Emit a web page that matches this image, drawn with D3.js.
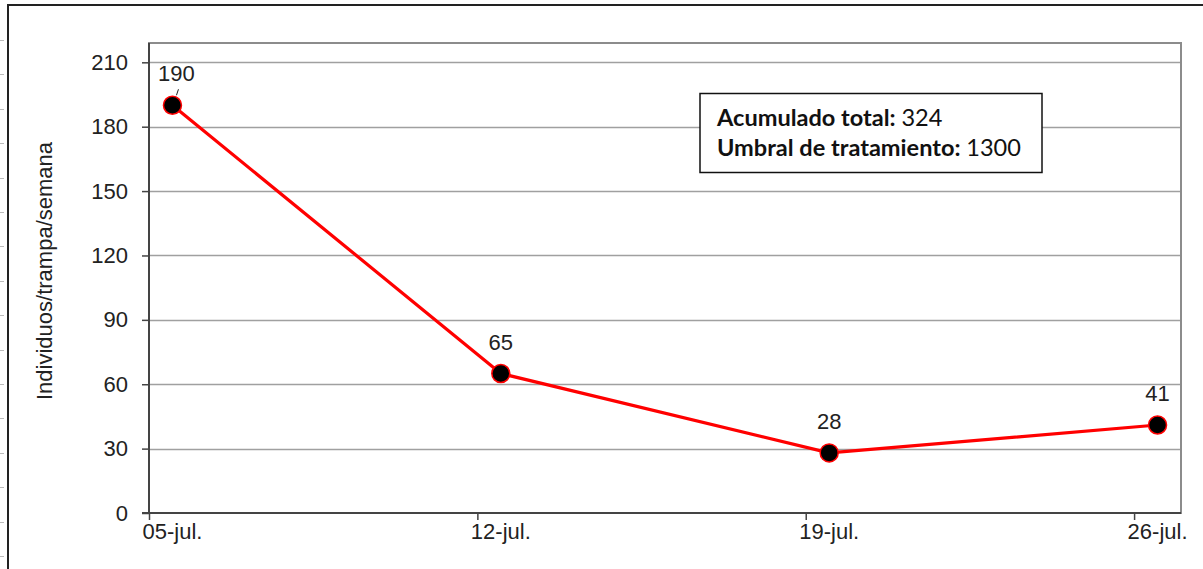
<!DOCTYPE html>
<html><head><meta charset="utf-8">
<script src="https://cdn.jsdelivr.net/npm/d3@7"></script>
<style>
html,body{margin:0;padding:0;background:#fff;}
svg{display:block;}
</style></head>
<body>
<svg id="chart" width="1203" height="569"></svg>
<script>
// ---- data ----
const dates = ["2021-07-05", "2021-07-12", "2021-07-19", "2021-07-26"];
const values = [190, 65, 28, 41];
const yTicks = [0, 30, 60, 90, 120, 150, 180, 210];
const monthAbbr = "jul.";
const yTitle = "Individuos/trampa/semana";
const boxLines = [
  {label: "Acumulado total:", value: "324"},
  {label: "Umbral de tratamiento:", value: "1300"}
];

const parse = d3.timeParse("%Y-%m-%d");
const data = dates.map((d, i) => ({date: parse(d), value: values[i]}));
const HALF = 12 * 3600 * 1000;

const svg = d3.select("#chart");
const W = 1203, H = 569;
const pLeft = 149, pRight = 1181, pTop = 43, pBottom = 513;
const FONT = "Liberation Sans, Arial, sans-serif";
const FS = 22;

// outer frame (spreadsheet-like)
svg.append("line").attr("x1", 8).attr("x2", W).attr("y1", 5).attr("y2", 5)
  .attr("stroke", "#222").attr("stroke-width", 2);
svg.append("line").attr("x1", 8).attr("x2", 8).attr("y1", 4).attr("y2", H)
  .attr("stroke", "#222").attr("stroke-width", 2);
for (let k = 0; k < 16; k++) {
  const yy = Math.round(40 + 34.4 * k) + 0.5;
  svg.append("line").attr("x1", 0).attr("x2", 4).attr("y1", yy).attr("y2", yy)
    .attr("stroke", "#bbb").attr("stroke-width", 1);
}

const x = d3.scaleTime()
  .domain([new Date(data[0].date.getTime() - HALF), new Date(data[data.length - 1].date.getTime() + HALF)])
  .range([pLeft, pRight]);
const y = d3.scaleLinear().domain([0, 219]).range([pBottom, pTop]);

// gridlines
svg.append("g").selectAll("line").data(yTicks.filter(t => t > 0)).join("line")
  .attr("x1", pLeft).attr("x2", pRight)
  .attr("y1", d => Math.round(y(d)) + 0.5).attr("y2", d => Math.round(y(d)) + 0.5)
  .attr("stroke", "#a0a0a0").attr("stroke-width", 1.5);

// plot border
svg.append("rect").attr("x", pLeft).attr("y", pTop).attr("width", pRight - pLeft).attr("height", pBottom - pTop)
  .attr("fill", "none").attr("stroke", "#8c8c8c").attr("stroke-width", 2);

// y axis
const yAxis = d3.axisLeft(y).tickValues(yTicks).tickSize(7).tickPadding(14)
  .tickFormat(d3.format("d"));
const gy = svg.append("g").attr("transform", `translate(${pLeft},0)`).call(yAxis);
gy.select(".domain").attr("stroke", "#444").attr("stroke-width", 2).attr("d", `M0,${pTop}V${pBottom}`);
gy.selectAll(".tick line").attr("stroke", "#444").attr("stroke-width", 1.5);
gy.selectAll(".tick text").attr("font-family", FONT)
  .attr("font-size", FS).attr("fill", "#222");

// x axis: ticks between categories, labels at dates
const tickDates = data.map(d => new Date(d.date.getTime() - HALF));
const xAxis = d3.axisBottom(x).tickValues(tickDates).tickSize(7).tickFormat("");
const gx = svg.append("g").attr("transform", `translate(0,${pBottom})`).call(xAxis);
gx.select(".domain").attr("stroke", "#444").attr("stroke-width", 2).attr("d", `M${pLeft - 7},0H${pRight}`);
gx.selectAll(".tick line").attr("stroke", "#444").attr("stroke-width", 1.5);
const fmtDay = d3.timeFormat("%d");
svg.append("g").selectAll("text").data(data).join("text")
  .attr("x", d => x(d.date)).attr("y", pBottom + 26)
  .attr("text-anchor", "middle")
  .attr("font-family", FONT).attr("font-size", FS).attr("fill", "#222")
  .text(d => fmtDay(d.date) + "-" + monthAbbr);

// y title
svg.append("text")
  .attr("transform", `translate(52,271) rotate(-90)`)
  .attr("text-anchor", "middle")
  .attr("font-family", FONT).attr("font-size", FS).attr("fill", "#222")
  .text(yTitle);

// line
const line = d3.line().x(d => x(d.date)).y(d => y(d.value));
svg.append("path").datum(data).attr("d", line)
  .attr("fill", "none").attr("stroke", "#ff0000").attr("stroke-width", 3.2).attr("stroke-linejoin", "round");

// markers
svg.append("g").selectAll("circle").data(data).join("circle")
  .attr("cx", d => x(d.date)).attr("cy", d => y(d.value)).attr("r", 9)
  .attr("fill", "#000").attr("stroke", "#ff0000").attr("stroke-width", 1.5);

// data labels
svg.append("g").selectAll("text").data(data).join("text")
  .attr("x", (d, i) => x(d.date) + (i === 0 ? 4 : 0))
  .attr("y", d => y(d.value) - 24)
  .attr("text-anchor", "middle")
  .attr("font-family", FONT).attr("font-size", FS).attr("fill", "#222")
  .text(d => d.value);
// leader for first label
svg.append("line")
  .attr("x1", x(data[0].date) + 6).attr("y1", y(data[0].value) - 16)
  .attr("x2", x(data[0].date) + 4).attr("y2", y(data[0].value) - 10)
  .attr("stroke", "#222").attr("stroke-width", 1);

// info box
const bx = 700, by = 93.5, bw = 342, bh = 79;
svg.append("rect").attr("x", bx).attr("y", by).attr("width", bw).attr("height", bh)
  .attr("fill", "#fff").attr("stroke", "#111").attr("stroke-width", 1.5);
const boxFont = "Lato, 'Open Sans', sans-serif";
const tg = svg.append("g");
const txts = boxLines.map((l, i) => {
  const t = tg.append("text").attr("x", bx + 17).attr("y", by + 32 + i * 30)
    .attr("font-family", boxFont).attr("font-size", 20).attr("fill", "#111");
  t.append("tspan").attr("font-weight", "bold").text(l.label + " ");
  t.append("tspan").text(l.value);
  return t;
});
// fit second line width to ~304px
const w2 = txts[1].node().getComputedTextLength();
const fs = 20 * 304 / w2;
txts.forEach(t => t.attr("font-size", fs));
</script>
</body></html>
